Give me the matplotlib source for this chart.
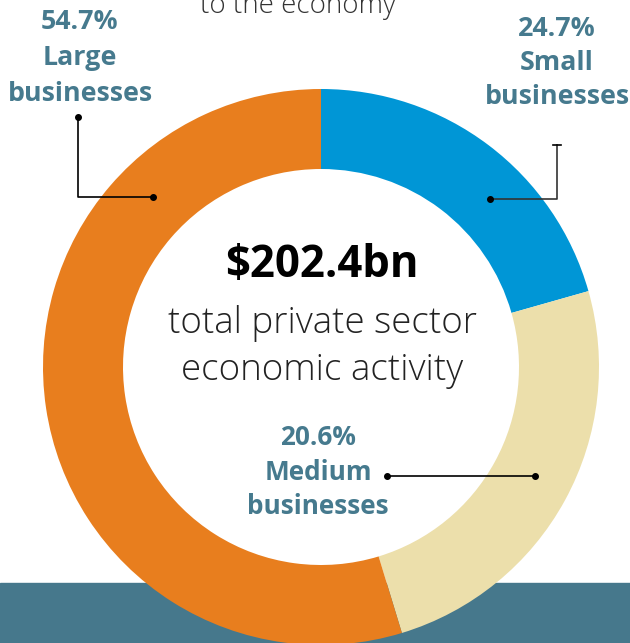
import matplotlib.pyplot as plt
from matplotlib.patches import Rectangle

# slice shares as drawn, clockwise from 12 o'clock
shares = [20.6, 24.7, 54.7]
colors = ['#0096D6', '#ECDFAB', '#E87E1E']

labels = ['54.7%\nLarge\nbusinesses', '24.7%\nSmall\nbusinesses', '20.6%\nMedium\nbusinesses']
total_text = '$202.4bn'
sub_text = 'total private sector\neconomic activity'

W, H = 630, 643
teal = '#467A8E'

fig = plt.figure(figsize=(6.3, 6.43), dpi=100)
ax = fig.add_axes([0, 0, 1, 1])

# band at the bottom
ax.add_patch(Rectangle((0, 0), W, H - 583, color='#46788C', zorder=0))

cx, cy, r = 321, H - 367, 278
ax.pie(shares, colors=colors, startangle=90, counterclock=False,
       center=(cx, cy), radius=r, wedgeprops=dict(width=80, linewidth=0))

ax.set_xlim(0, W)
ax.set_ylim(0, H)
ax.set_aspect('auto')
ax.axis('off')

font = 'Open Sans'
ax.text(298, H - 13, 'to the economy', ha='center', va='baseline', fontsize=20,
        family=font, fontweight='light', color='#333333')

ax.text(80, H - 58, labels[0], ha='center', va='center', fontsize=19.3, family=font,
        fontweight='bold', color=teal, linespacing=1.5)
ax.text(557, H - 63, labels[1], ha='center', va='center', fontsize=19.3, family=font,
        fontweight='bold', color=teal, linespacing=1.42)
ax.text(318, H - 472, labels[2], ha='center', va='center', fontsize=18.8, family=font,
        fontweight='bold', color=teal, linespacing=1.35)

ax.text(322, H - 266, total_text, ha='center', va='center', fontsize=31.5, family=font,
        fontweight='bold', color='black')
ax.text(322, H - 347, sub_text, ha='center', va='center', fontsize=26.5, family=font,
        fontweight='light', color='#222222', linespacing=1.33)

# leader lines
ax.plot([153, 78, 78], [H - 197, H - 197, H - 117], color='black', lw=1.2)
ax.plot([153, 78], [H - 197, H - 117], 'o', color='black', ms=4)
ax.plot([490, 557, 557], [H - 199, H - 199, H - 145], color='#333333', lw=1.2)
ax.plot([490], [H - 199], 'o', color='black', ms=4)
ax.plot([553, 561], [H - 145, H - 145], color='black', lw=1.2)
ax.plot([387, 535], [H - 476, H - 476], color='black', lw=1.2)
ax.plot([387, 535], [H - 476, H - 476], 'o', color='black', ms=4)

fig.savefig('out.png', dpi=100)
